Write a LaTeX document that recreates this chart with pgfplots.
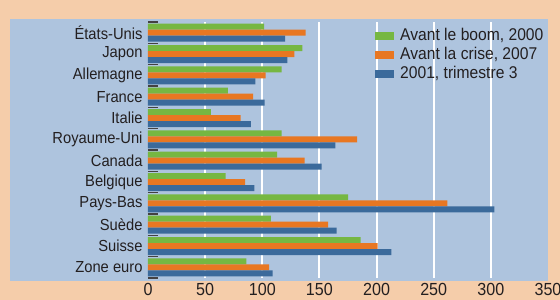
\documentclass[border=0pt]{standalone}
\usepackage{pgfplots}
\pgfplotsset{compat=1.18}
\usepackage{fontspec}
\setmainfont[FakeStretch=0.92]{Liberation Sans}
\usetikzlibrary{backgrounds}
\definecolor{peach}{RGB}{245,205,170}
\definecolor{plotblue}{RGB}{174,196,222}
\definecolor{cgreen}{RGB}{118,183,66}
\definecolor{corange}{RGB}{232,119,34}
\definecolor{cblue}{RGB}{59,106,155}
\definecolor{txt}{RGB}{35,31,32}
\begin{document}
\begin{tikzpicture}
\begin{axis}[
  name=ax,
  scale only axis, width=400bp, height=256bp,
  xmin=0, xmax=350,
  ymin=-0.5, ymax=11.5, y dir=reverse,
  ytick={0,...,11},
  yticklabels={États-Unis,Japon,Allemagne,France,Italie,Royaume-Uni,Canada,Belgique,Pays-Bas,Suède,Suisse,Zone euro},
  minor ytick={-0.5,0.5,...,11.5},
  xtick={0,50,...,350},
  minor xtick={50,100,...,300},
  xminorgrids=true,
  minor grid style={white, line width=2bp},
  major tick length=0pt,
  minor tick length=10bp,
  tick align=inside,
  tick pos=left,
  x tick style={draw=none},
  y tick style={txt!85, line width=1.5bp},
  axis line style={draw=none},
  /pgf/number format/assume math mode=true,
  xticklabel style={font=\fontsize{17.5bp}{20bp}\selectfont, text=txt, yshift=-2bp},
  yticklabel style={font=\fontsize{16bp}{18bp}\selectfont, text=txt, xshift=-2bp},
  legend style={draw=none, fill=none, inner sep=0pt, at={(0.5675,0.9766)}, anchor=north west,
    nodes={inner sep=0pt, text height=12.5bp, text depth=3.5bp, font=\fontsize{17bp}{20bp}\selectfont, text=txt},
    row sep=3bp, column sep=6bp},
  legend cell align=left,
  legend image code/.code={\draw[#1, draw=none] (0bp,-4bp) rectangle (19bp,4bp);},
]
\addplot[xbar, bar width=6bp, bar shift=6bp, fill=cgreen, draw=none] coordinates {
(101.5,0) (135,1) (117,2) (70,3) (55,4) (117,5) (113,6) (68,7) (175,8) (107.5,9) (186,10) (86,11)};
\addplot[xbar, bar width=6bp, bar shift=0bp, fill=corange, draw=none] coordinates {
(138,0) (128,1) (103,2) (92,3) (81,4) (183,5) (137,6) (85,7) (262,8) (157.5,9) (201,10) (106,11)};
\addplot[xbar, bar width=6bp, bar shift=-6bp, fill=cblue, draw=none] coordinates {
(120,0) (122,1) (94,2) (102,3) (90,4) (164,5) (152,6) (93,7) (303,8) (165,9) (213,10) (109,11)};
\legend{Avant le boom{,} 2000, Avant la crise{,} 2007, {2001, trimestre 3}}
\end{axis}
\begin{scope}[on background layer]
\fill[peach] ([shift={(-148bp,-22bp)}]ax.south west) rectangle ([shift={(12bp,22bp)}]ax.north east);
\fill[plotblue] ([shift={(-138bp,-3bp)}]ax.south west) rectangle ([shift={(0bp,3bp)}]ax.north east);
\end{scope}
\pgfresetboundingbox
\useasboundingbox ([shift={(-148bp,-22bp)}]ax.south west) rectangle ([shift={(12bp,22bp)}]ax.north east);
\end{tikzpicture}
\end{document}
